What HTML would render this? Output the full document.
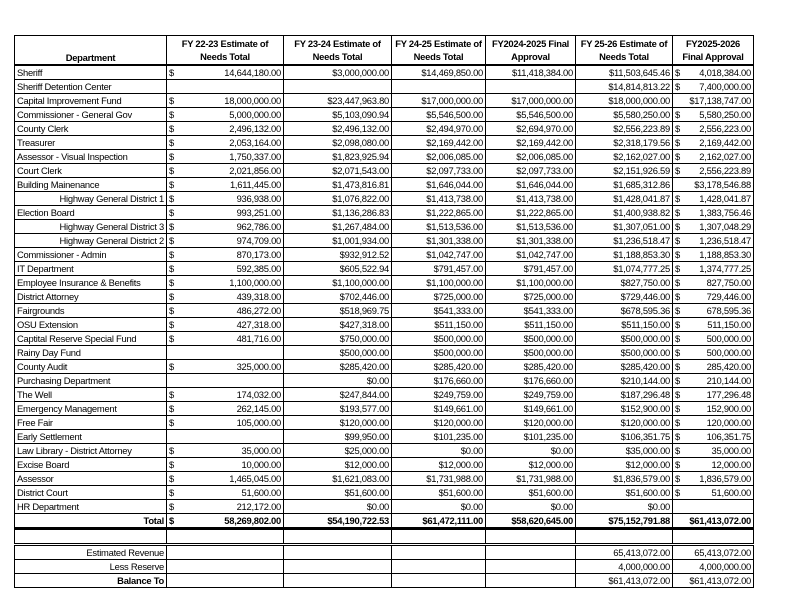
<!DOCTYPE html>
<html><head><meta charset="utf-8"><style>
body{margin:0;background:#fff;width:792px;height:612px;overflow:hidden;position:relative;font-family:"Liberation Sans",Arial,sans-serif;}
table{position:absolute;left:14px;top:35px;border-collapse:collapse;table-layout:fixed;font-size:9.4px;letter-spacing:-0.25px;color:#000}
td{border:1px solid #000;height:13px;padding:0 2px;white-space:nowrap;overflow:hidden;line-height:13px;text-align:right}
td.l{text-align:left}
th{border:1px solid #000;border-bottom:2px solid #000;height:28px;font-weight:bold;font-size:9.4px;line-height:13px;padding:0}
th.d{vertical-align:bottom}
.s{float:left}
tr.t td{font-weight:bold;border-bottom:3px solid #000}
tr.b td{border-bottom:3px double #000}
</style></head><body>
<table>
<colgroup><col style="width:152px"><col style="width:117px"><col style="width:108px"><col style="width:94px"><col style="width:90px"><col style="width:97px"><col style="width:81px"></colgroup>
<tr><th class="d">Department</th><th>FY 22-23 Estimate of<br>Needs Total</th><th>FY 23-24 Estimate of<br>Needs Total</th><th>FY 24-25 Estimate of<br>Needs Total</th><th>FY2024-2025 Final<br>Approval</th><th>FY 25-26 Estimate of<br>Needs Total</th><th>FY2025-2026<br>Final Approval</th></tr>
<tr><td class="l">Sheriff</td><td><span class="s">$</span>14,644,180.00</td><td>$3,000,000.00</td><td>$14,469,850.00</td><td>$11,418,384.00</td><td>$11,503,645.46</td><td><span class="s">$</span>4,018,384.00</td></tr>
<tr><td class="l">Sheriff Detention Center</td><td></td><td></td><td></td><td></td><td>$14,814,813.22</td><td><span class="s">$</span>7,400,000.00</td></tr>
<tr><td class="l">Capital Improvement Fund</td><td><span class="s">$</span>18,000,000.00</td><td>$23,447,963.80</td><td>$17,000,000.00</td><td>$17,000,000.00</td><td>$18,000,000.00</td><td>$17,138,747.00</td></tr>
<tr><td class="l">Commissioner - General Gov</td><td><span class="s">$</span>5,000,000.00</td><td>$5,103,090.94</td><td>$5,546,500.00</td><td>$5,546,500.00</td><td>$5,580,250.00</td><td><span class="s">$</span>5,580,250.00</td></tr>
<tr><td class="l">County Clerk</td><td><span class="s">$</span>2,496,132.00</td><td>$2,496,132.00</td><td>$2,494,970.00</td><td>$2,694,970.00</td><td>$2,556,223.89</td><td><span class="s">$</span>2,556,223.00</td></tr>
<tr><td class="l">Treasurer</td><td><span class="s">$</span>2,053,164.00</td><td>$2,098,080.00</td><td>$2,169,442.00</td><td>$2,169,442.00</td><td>$2,318,179.56</td><td><span class="s">$</span>2,169,442.00</td></tr>
<tr><td class="l">Assessor - Visual Inspection</td><td><span class="s">$</span>1,750,337.00</td><td>$1,823,925.94</td><td>$2,006,085.00</td><td>$2,006,085.00</td><td>$2,162,027.00</td><td><span class="s">$</span>2,162,027.00</td></tr>
<tr><td class="l">Court Clerk</td><td><span class="s">$</span>2,021,856.00</td><td>$2,071,543.00</td><td>$2,097,733.00</td><td>$2,097,733.00</td><td>$2,151,926.59</td><td><span class="s">$</span>2,556,223.89</td></tr>
<tr><td class="l">Building Mainenance</td><td><span class="s">$</span>1,611,445.00</td><td>$1,473,816.81</td><td>$1,646,044.00</td><td>$1,646,044.00</td><td>$1,685,312.86</td><td>$3,178,546.88</td></tr>
<tr><td>Highway General District 1</td><td><span class="s">$</span>936,938.00</td><td>$1,076,822.00</td><td>$1,413,738.00</td><td>$1,413,738.00</td><td>$1,428,041.87</td><td><span class="s">$</span>1,428,041.87</td></tr>
<tr><td class="l">Election Board</td><td><span class="s">$</span>993,251.00</td><td>$1,136,286.83</td><td>$1,222,865.00</td><td>$1,222,865.00</td><td>$1,400,938.82</td><td><span class="s">$</span>1,383,756.46</td></tr>
<tr><td>Highway General District 3</td><td><span class="s">$</span>962,786.00</td><td>$1,267,484.00</td><td>$1,513,536.00</td><td>$1,513,536.00</td><td>$1,307,051.00</td><td><span class="s">$</span>1,307,048.29</td></tr>
<tr><td>Highway General District 2</td><td><span class="s">$</span>974,709.00</td><td>$1,001,934.00</td><td>$1,301,338.00</td><td>$1,301,338.00</td><td>$1,236,518.47</td><td><span class="s">$</span>1,236,518.47</td></tr>
<tr><td class="l">Commissioner - Admin</td><td><span class="s">$</span>870,173.00</td><td>$932,912.52</td><td>$1,042,747.00</td><td>$1,042,747.00</td><td>$1,188,853.30</td><td><span class="s">$</span>1,188,853.30</td></tr>
<tr><td class="l">IT Department</td><td><span class="s">$</span>592,385.00</td><td>$605,522.94</td><td>$791,457.00</td><td>$791,457.00</td><td>$1,074,777.25</td><td><span class="s">$</span>1,374,777.25</td></tr>
<tr><td class="l">Employee Insurance &amp; Benefits</td><td><span class="s">$</span>1,100,000.00</td><td>$1,100,000.00</td><td>$1,100,000.00</td><td>$1,100,000.00</td><td>$827,750.00</td><td><span class="s">$</span>827,750.00</td></tr>
<tr><td class="l">District Attorney</td><td><span class="s">$</span>439,318.00</td><td>$702,446.00</td><td>$725,000.00</td><td>$725,000.00</td><td>$729,446.00</td><td><span class="s">$</span>729,446.00</td></tr>
<tr><td class="l">Fairgrounds</td><td><span class="s">$</span>486,272.00</td><td>$518,969.75</td><td>$541,333.00</td><td>$541,333.00</td><td>$678,595.36</td><td><span class="s">$</span>678,595.36</td></tr>
<tr><td class="l">OSU Extension</td><td><span class="s">$</span>427,318.00</td><td>$427,318.00</td><td>$511,150.00</td><td>$511,150.00</td><td>$511,150.00</td><td><span class="s">$</span>511,150.00</td></tr>
<tr><td class="l">Captital Reserve Special Fund</td><td><span class="s">$</span>481,716.00</td><td>$750,000.00</td><td>$500,000.00</td><td>$500,000.00</td><td>$500,000.00</td><td><span class="s">$</span>500,000.00</td></tr>
<tr><td class="l">Rainy Day Fund</td><td></td><td>$500,000.00</td><td>$500,000.00</td><td>$500,000.00</td><td>$500,000.00</td><td><span class="s">$</span>500,000.00</td></tr>
<tr><td class="l">County Audit</td><td><span class="s">$</span>325,000.00</td><td>$285,420.00</td><td>$285,420.00</td><td>$285,420.00</td><td>$285,420.00</td><td><span class="s">$</span>285,420.00</td></tr>
<tr><td class="l">Purchasing Department</td><td></td><td>$0.00</td><td>$176,660.00</td><td>$176,660.00</td><td>$210,144.00</td><td><span class="s">$</span>210,144.00</td></tr>
<tr><td class="l">The Well</td><td><span class="s">$</span>174,032.00</td><td>$247,844.00</td><td>$249,759.00</td><td>$249,759.00</td><td>$187,296.48</td><td><span class="s">$</span>177,296.48</td></tr>
<tr><td class="l">Emergency Management</td><td><span class="s">$</span>262,145.00</td><td>$193,577.00</td><td>$149,661.00</td><td>$149,661.00</td><td>$152,900.00</td><td><span class="s">$</span>152,900.00</td></tr>
<tr><td class="l">Free Fair</td><td><span class="s">$</span>105,000.00</td><td>$120,000.00</td><td>$120,000.00</td><td>$120,000.00</td><td>$120,000.00</td><td><span class="s">$</span>120,000.00</td></tr>
<tr><td class="l">Early Settlement</td><td></td><td>$99,950.00</td><td>$101,235.00</td><td>$101,235.00</td><td>$106,351.75</td><td><span class="s">$</span>106,351.75</td></tr>
<tr><td class="l">Law Library - District Attorney</td><td><span class="s">$</span>35,000.00</td><td>$25,000.00</td><td>$0.00</td><td>$0.00</td><td>$35,000.00</td><td><span class="s">$</span>35,000.00</td></tr>
<tr><td class="l">Excise Board</td><td><span class="s">$</span>10,000.00</td><td>$12,000.00</td><td>$12,000.00</td><td>$12,000.00</td><td>$12,000.00</td><td><span class="s">$</span>12,000.00</td></tr>
<tr><td class="l">Assessor</td><td><span class="s">$</span>1,465,045.00</td><td>$1,621,083.00</td><td>$1,731,988.00</td><td>$1,731,988.00</td><td>$1,836,579.00</td><td><span class="s">$</span>1,836,579.00</td></tr>
<tr><td class="l">District Court</td><td><span class="s">$</span>51,600.00</td><td>$51,600.00</td><td>$51,600.00</td><td>$51,600.00</td><td>$51,600.00</td><td><span class="s">$</span>51,600.00</td></tr>
<tr><td class="l">HR Department</td><td><span class="s">$</span>212,172.00</td><td>$0.00</td><td>$0.00</td><td>$0.00</td><td>$0.00</td><td></td></tr>
<tr class="t"><td>Total</td><td><span class="s">$</span>58,269,802.00</td><td>$54,190,722.53</td><td>$61,472,111.00</td><td>$58,620,645.00</td><td>$75,152,791.88</td><td>$61,413,072.00</td></tr>
<tr class="b"><td></td><td></td><td></td><td></td><td></td><td></td><td></td></tr>
<tr><td>Estimated Revenue</td><td></td><td></td><td></td><td></td><td>65,413,072.00</td><td>65,413,072.00</td></tr>
<tr><td>Less Reserve</td><td></td><td></td><td></td><td></td><td>4,000,000.00</td><td>4,000,000.00</td></tr>
<tr><td style="font-weight:bold">Balance To</td><td></td><td></td><td></td><td></td><td>$61,413,072.00</td><td>$61,413,072.00</td></tr>
</table>
</body></html>
